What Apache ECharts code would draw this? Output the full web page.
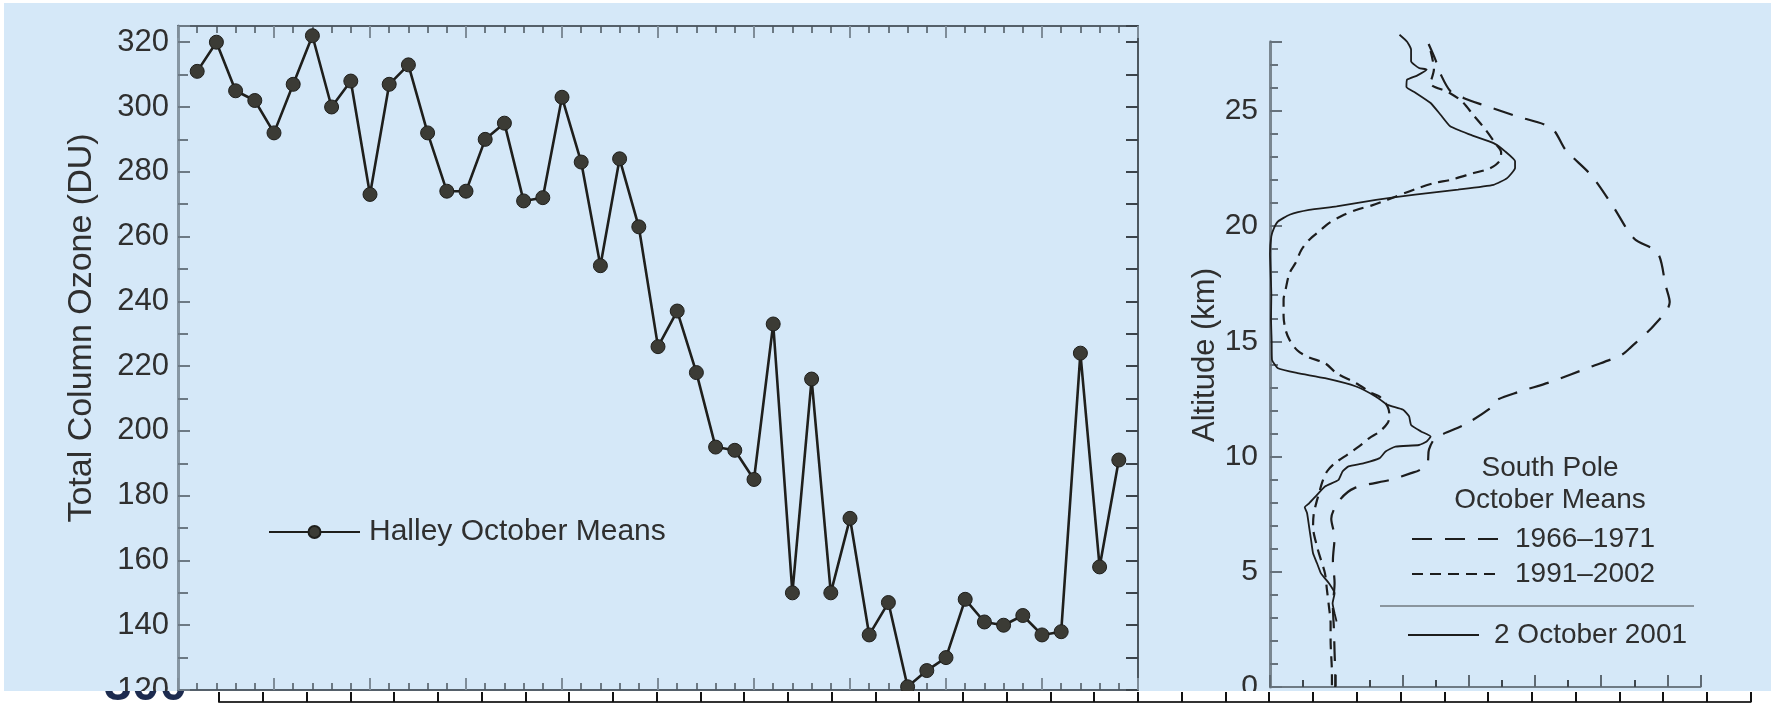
<!DOCTYPE html>
<html>
<head>
<meta charset="utf-8">
<script src="https://cdn.jsdelivr.net/npm/echarts@6/dist/echarts.min.js"></script>
<style>
  html, body { margin: 0; padding: 0; background: #ffffff; }
  #chart { position: absolute; left: 0; top: 0; width: 1776px; height: 691px; }
  #strip { position: absolute; left: 0; top: 691px; width: 1776px; height: 12px; }
</style>
</head>
<body>
<div id="chart"></div>
<div id="strip"></div>
<script>
// Halley, Antarctica: October mean total column ozone (DU)
const halleyYears = [
  1956, 1957, 1958, 1959, 1960, 1961, 1962, 1963, 1964, 1965,
  1966, 1967, 1968, 1969, 1970, 1971, 1972, 1973, 1974, 1975,
  1976, 1977, 1978, 1979, 1980, 1981, 1982, 1983, 1984, 1985,
  1986, 1987, 1988, 1989, 1990, 1991, 1992, 1993, 1994, 1995,
  1996, 1997, 1998, 1999, 2000, 2001, 2002, 2003, 2004
];
const halleyOzone = [
  311, 320, 305, 302, 292, 307, 322, 300, 308, 273,
  307, 313, 292, 274, 274, 290, 295, 271, 272, 303,
  283, 251, 284, 263, 226, 237, 218, 195, 194, 185,
  233, 150, 216, 150, 173, 137, 147, 121, 126, 130,
  148, 141, 140, 143, 137, 138, 224, 158, 191
];

// South Pole ozone profiles (ozone amount in axis tick units, altitude in km)
const ozone6671 = [
  4.79, 5.0, 5.15, 5.45, 5.86, 6.4, 7.46, 8.5, 8.93, 9.7,
  10.36, 11.0, 11.7, 11.95, 12.07, 11.6, 10.9, 10.6, 9.7, 8.5,
  7.5, 6.85, 6.7, 5.9, 5.0, 4.8, 4.75, 4.5, 4.26, 3.67,
  2.55, 2.1, 1.85, 1.95, 1.9, 1.95, 1.9, 1.93, 1.95, 1.97, 1.97
];
const alt6671 = [
  27.9, 27.2, 26.6, 25.85, 25.55, 25.27, 24.76, 24.25, 23.3, 22.2,
  20.85, 19.45, 18.85, 17.4, 16.7, 15.7, 14.75, 14.4, 13.9, 13.25,
  12.8, 12.45, 12.15, 11.4, 10.8, 10.3, 9.7, 9.4, 9.28, 9.0,
  8.63, 8.1, 7.3, 6.5, 5.5, 4.5, 3.5, 2.5, 1.5, 0.5, 0.0
];

const ozone9102 = [
  4.85, 4.95, 4.85, 5.4, 5.8, 6.15, 6.5, 6.8, 6.98, 6.92,
  6.63, 6.15, 5.44, 4.97, 4.38, 3.55, 3.08, 2.6, 2.25, 1.78,
  1.54, 1.18, 0.95, 0.77, 0.59, 0.47, 0.41, 0.41, 0.47, 0.59,
  0.83, 1.18, 1.66, 2.01, 2.6, 3.08, 3.31, 3.55, 3.61, 3.55,
  3.31, 3.0, 2.7, 2.35, 1.95, 1.72, 1.58, 1.48, 1.4, 1.32,
  1.3, 1.42, 1.54, 1.66, 1.72, 1.78, 1.83, 1.83, 1.87, 1.87
];
const alt9102 = [
  27.6, 26.8, 26.2, 25.8, 25.4, 24.8, 24.2, 23.6, 23.2, 22.8,
  22.5, 22.3, 22.0, 21.87, 21.6, 21.14, 20.9, 20.7, 20.5, 20.13,
  19.84, 19.4, 18.97, 18.4, 17.96, 17.24, 16.8, 16.1, 15.5, 15.06,
  14.6, 14.3, 14.05, 13.62, 13.18, 12.75, 12.6, 12.17, 11.74, 11.45,
  11.08, 10.8, 10.45, 10.1, 9.7, 9.35, 8.9, 8.4, 8.0, 7.5,
  6.96, 6.09, 5.51, 4.93, 4.21, 3.49, 2.76, 2.04, 0.59, 0.0
];

const ozone011002 = [
  3.91, 4.14, 4.26, 4.26, 4.5, 4.73, 4.44, 4.14, 4.12, 4.38,
  4.85, 5.15, 5.44, 6.04, 6.75, 7.1, 7.4, 7.4, 7.16, 6.75,
  5.68, 4.38, 3.2, 2.01, 1.18, 0.59, 0.24, 0.12, 0.04, 0.0,
  0.02, 0.04, 0.03, 0.05, 0.06, 0.24, 0.83, 1.66, 2.6, 3.2,
  3.55, 4.02, 4.2, 4.26, 4.56, 4.85, 4.73, 4.5, 3.79, 3.49,
  3.31, 2.84, 2.37, 2.19, 2.07, 1.66, 1.42, 1.18, 1.05, 1.12,
  1.18, 1.24, 1.3, 1.42, 1.54, 1.78, 1.95, 1.89, 1.95, 2.01
];
const alt011002 = [
  28.3, 28.0, 27.66, 27.15, 26.86, 26.79, 26.53, 26.35, 26.03, 25.8,
  25.34, 24.83, 24.33, 23.97, 23.6, 23.24, 22.81, 22.52, 22.08, 21.79,
  21.58, 21.36, 21.14, 20.85, 20.7, 20.49, 20.2, 19.91, 19.55, 18.8,
  18.0, 17.0, 16.0, 15.0, 14.2, 13.83, 13.62, 13.4, 13.04, 12.6,
  12.24, 12.03, 11.74, 11.37, 11.09, 10.87, 10.65, 10.5, 10.43, 10.22,
  9.93, 9.71, 9.57, 9.35, 8.99, 8.7, 8.34, 7.97, 7.8, 7.54,
  6.96, 6.38, 5.8, 5.37, 4.93, 4.5, 4.07, 3.63, 3.2, 2.84
];

const names = {
  halley: 'Halley October Means',
  early: '1966\u20131971',
  recent: '1991\u20132002',
  day: '2 October 2001'
};

// ruler under the figure: tick positions 0..35
const rulerMin = 0;
const rulerMax = 35;

const FONT = '"Liberation Sans", Arial, Helvetica, sans-serif';
const INK = '#2f2f2f';
const AXIS_GREY = '#7f8d99';

function zip(xs, ys) {
  return xs.map((x, i) => [x, ys[i]]);
}

function frameAxis(extra) {
  return Object.assign({
    type: 'value',
    splitLine: { show: false },
    axisLabel: { show: false },
    axisLine: { show: true, onZero: false, lineStyle: { color: '#55606a', width: 2 } },
    axisTick: { show: true, inside: true, length: 12, lineStyle: { color: AXIS_GREY, width: 2 } },
    minorTick: { show: true, splitNumber: 5, length: 7, lineStyle: { color: '#4a545d', width: 1.5 } },
    minorSplitLine: { show: false }
  }, extra);
}

const profileLegend = {
  padding: 0, itemHeight: 14,
  itemStyle: { opacity: 0 },
  textStyle: { fontSize: 28, lineHeight: 30, color: INK, fontFamily: FONT, padding: [0, 0, 0, 10] }
};

const chart = echarts.init(document.getElementById('chart'), null, { renderer: 'canvas' });

const option = {
  animation: false,
  backgroundColor: 'transparent',
  textStyle: { fontFamily: FONT },
  grid: [
    { left: 178, top: 26, width: 960, height: 664, containLabel: false, outerBoundsMode: 'none' },
    { left: 1270, top: 41.7, width: 430.5, height: 645.3, containLabel: false, outerBoundsMode: 'none' }
  ],
  xAxis: [
    frameAxis({ gridIndex: 0, position: 'bottom', min: 1955, max: 2005, interval: 5 }),
    frameAxis({ gridIndex: 0, position: 'top', min: 1955, max: 2005, interval: 5 }),
    frameAxis({
      gridIndex: 1, position: 'bottom', min: 0, max: 13, interval: 2,
      axisLine: { show: true, onZero: false, lineStyle: { color: '#6f7b85', width: 2 } },
      axisTick: { show: true, inside: true, length: 12, lineStyle: { color: '#5f6a73', width: 2 } },
      minorTick: { show: true, splitNumber: 2, length: 7, lineStyle: { color: '#3f474e', width: 2 } }
    })
  ],
  yAxis: [
    frameAxis({
      gridIndex: 0, position: 'left', min: 120, max: 325, interval: 20,
      axisLine: { show: true, onZero: false, lineStyle: { color: '#8696a3', width: 3 } },
      axisTick: { show: true, inside: true, length: 12, lineStyle: { color: '#6c7984', width: 2 } },
      minorTick: { show: true, splitNumber: 2, length: 10, lineStyle: { color: '#6c7984', width: 2 } },
      axisLabel: { show: true, fontSize: 31, color: INK, margin: 9, fontFamily: FONT, showMaxLabel: false }
    }),
    frameAxis({
      gridIndex: 0, position: 'right', min: 120, max: 325, interval: 20,
      axisLine: { show: true, onZero: false, lineStyle: { color: '#4d575f', width: 2 } },
      axisTick: { show: true, inside: true, length: 12, lineStyle: { color: '#3c444b', width: 2 } },
      minorTick: { show: true, splitNumber: 2, length: 12, lineStyle: { color: '#3c444b', width: 2 } }
    }),
    frameAxis({
      gridIndex: 1, position: 'left', min: 0, max: 28, interval: 5,
      axisLine: { show: true, onZero: false, lineStyle: { color: '#7a8791', width: 3 } },
      axisTick: { show: true, inside: true, length: 12, lineStyle: { color: '#66727c', width: 2 } },
      minorTick: { show: true, splitNumber: 5, length: 8, lineStyle: { color: '#66727c', width: 2 } },
      axisLabel: { show: true, fontSize: 30, color: INK, margin: 12, fontFamily: FONT, showMaxLabel: false }
    })
  ],
  legend: [
    {
      data: [names.halley], left: 268, top: 517, padding: 0,
      itemWidth: 91, itemHeight: 15,
      textStyle: { fontSize: 30, color: INK, fontFamily: FONT, padding: [0, 0, 0, 4] }
    },
    Object.assign({}, profileLegend, {
      data: [names.early, names.recent], orient: 'vertical', left: 1411, top: 524,
      itemWidth: 88, itemGap: 5
    }),
    Object.assign({}, profileLegend, {
      data: [names.day], left: 1407, top: 620, itemWidth: 71
    })
  ],
  series: [
    {
      name: names.halley, type: 'line', xAxisIndex: 0, yAxisIndex: 0,
      data: zip(halleyYears, halleyOzone),
      symbol: 'circle', symbolSize: 14, showSymbol: true,
      lineStyle: { color: '#1f1f1c', width: 2.6 },
      itemStyle: { color: '#3b3b35', borderColor: '#1f1f1c', borderWidth: 1 },
      z: 5
    },
    {
      name: names.early, type: 'line', xAxisIndex: 2, yAxisIndex: 2,
      data: zip(ozone6671, alt6671), symbol: 'none', showSymbol: false, smooth: 0.3, clip: false,
      lineStyle: { color: '#1d1d1d', width: 2.2, type: [20, 13] },
      itemStyle: { color: 'transparent', borderWidth: 0 }
    },
    {
      name: names.recent, type: 'line', xAxisIndex: 2, yAxisIndex: 2,
      data: zip(ozone9102, alt9102), symbol: 'none', showSymbol: false, smooth: 0.3, clip: false,
      lineStyle: { color: '#1d1d1d', width: 2.2, type: [11, 7] },
      itemStyle: { color: 'transparent', borderWidth: 0 }
    },
    {
      name: names.day, type: 'line', xAxisIndex: 2, yAxisIndex: 2,
      data: zip(ozone011002, alt011002), symbol: 'none', showSymbol: false, smooth: 0.15, clip: false,
      lineStyle: { color: '#1d1d1d', width: 1.8 },
      itemStyle: { color: 'transparent', borderWidth: 0 }
    }
  ],
  graphic: [
    {
      type: 'rect', z: -10, silent: true,
      shape: { x: 4, y: 3, width: 1767, height: 690 },
      style: { fill: '#d5e8f8' }
    },
    {
      type: 'text', z: 10, silent: true, x: 82, y: 328, rotation: Math.PI / 2,
      style: { text: 'Total Column Ozone (DU)', fontSize: 34, fontFamily: FONT, fill: INK, textAlign: 'center', textVerticalAlign: 'middle' }
    },
    {
      type: 'text', z: 10, silent: true, x: 1205, y: 355, rotation: Math.PI / 2,
      style: { text: 'Altitude (km)', fontSize: 31, fontFamily: FONT, fill: INK, textAlign: 'center', textVerticalAlign: 'middle' }
    },
    {
      type: 'text', z: 10, silent: true, x: 1550, y: 468,
      style: { text: 'South Pole', fontSize: 28, fontFamily: FONT, fill: INK, textAlign: 'center', textVerticalAlign: 'middle' }
    },
    {
      type: 'text', z: 10, silent: true, x: 1550, y: 500,
      style: { text: 'October Means', fontSize: 28, fontFamily: FONT, fill: INK, textAlign: 'center', textVerticalAlign: 'middle' }
    },
    {
      type: 'line', z: 10, silent: true,
      shape: { x1: 1380, y1: 606, x2: 1694, y2: 606 },
      style: { stroke: '#8a959e', lineWidth: 2 }
    }
  ]
};

chart.setOption(option);

// White strip under the figure with a ruler scale and the foot of a large page number
const strip = echarts.init(document.getElementById('strip'), null, { renderer: 'canvas' });
strip.setOption({
  animation: false,
  backgroundColor: '#ffffff',
  grid: { left: 219, top: 0, width: 1531.6, height: 11, containLabel: false, outerBoundsMode: 'none' },
  xAxis: {
    type: 'value', min: rulerMin, max: rulerMax, interval: 1,
    splitLine: { show: false },
    axisLabel: { show: false },
    axisLine: { show: true, onZero: false, lineStyle: { color: '#333333', width: 2 } },
    axisTick: { show: true, inside: true, length: 10, lineStyle: { color: '#111111', width: 2 } }
  },
  yAxis: { type: 'value', show: false, min: 0, max: 1 },
  graphic: [
    {
      type: 'text', silent: true, x: 104, y: -5,
      style: { text: '300', fontSize: 50, fontWeight: 'bold', fontFamily: FONT, fill: '#1d2b4f', textAlign: 'left', textVerticalAlign: 'middle' }
    }
  ]
});
</script>
</body>
</html>
